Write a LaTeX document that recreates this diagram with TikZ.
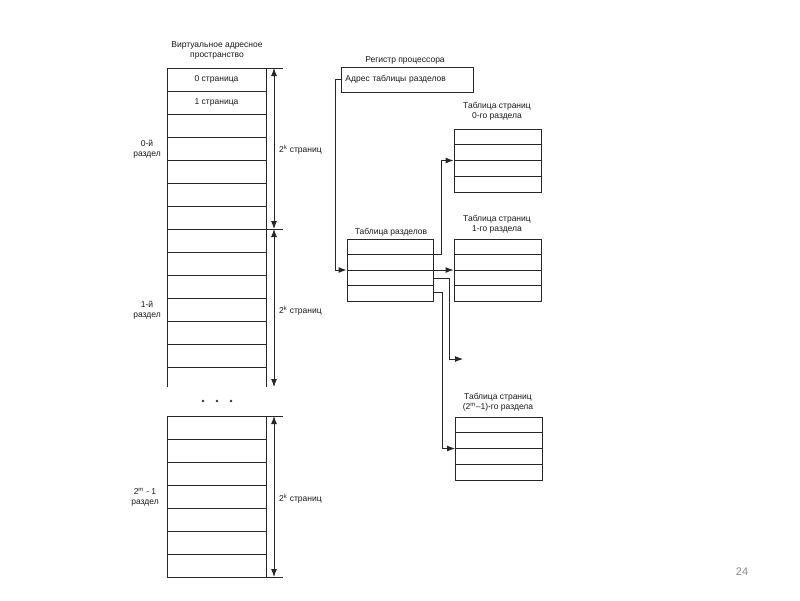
\documentclass[tikz,border=0pt]{standalone}
\usepackage{fontspec}
\setmainfont{Liberation Sans}
\usetikzlibrary{arrows.meta,calc}
\begin{document}
\begin{tikzpicture}[x=1pt,y=-1pt,
  every node/.style={font=\fontsize{8.5}{10}\selectfont, inner sep=0pt, align=center, text=black!90},
  ln/.style={line width=0.95pt, draw=black!85},
  arr/.style={ln, -{Latex[length=8pt,width=6pt]}},
  dim/.style={ln, {Latex[length=8pt,width=6pt]}-{Latex[length=8pt,width=6pt]}},
  tbl/.style={draw=black!85, line width=0.95pt, minimum width=87pt, minimum height=62pt}]
\fill[white] (0,0) rectangle (800,600);
\useasboundingbox (0,0) rectangle (800,600);

% ---------- left column ----------
\node[name=title] at (217,50) {Виртуальное адресное\\пространство};
\node[draw=black!85, line width=0.95pt, minimum width=99pt, minimum height=161pt] (s0) at (216.5,148.5) {};
\foreach \k in {1,...,6} \draw[ln] (167,68+23*\k) -- (266,68+23*\k);
\node[name=p0] at (216.5,79.5) {0 страница};
\node[name=p1] at (216.5,102.5) {1 страница};

\draw[ln] (167,229) -- (167,387);
\draw[ln] (266,229) -- (266,387);
\foreach \k in {1,...,6} \draw[ln] (167,229+23*\k) -- (266,229+23*\k);

\node[draw=black!85, line width=0.95pt, minimum width=99pt, minimum height=161pt] (s2) at (216.5,496.5) {};
\foreach \k in {1,...,6} \draw[ln] (167,416+23*\k) -- (266,416+23*\k);

\foreach \x in {203,217,231} \fill[black!80] (\x,401) circle (1.4pt);

\node[name=l0] at (147,149) {0-й\\раздел};
\node[name=l1] at (147,310) {1-й\\раздел};
\node[name=l2] at (145,497) {2\textsuperscript{m} - 1\\раздел};

% dimension lines
\coordinate (d0) at (274,68);
\coordinate (d1) at (274,229);
\coordinate (d2) at (274,387);
\coordinate (d3) at (274,416);
\coordinate (d4) at (274,577);
\foreach \y in {68,229,416,577} \draw[ln] (266,\y) -- (283,\y);
\draw[dim] (d0) -- (d1);
\draw[dim] (d1) -- (d2);
\draw[dim] (d3) -- (d4);
\node[anchor=west, name=k0] at (279,150) {2\textsuperscript{k} страниц};
\node[anchor=west, name=k1] at (279,311) {2\textsuperscript{k} страниц};
\node[anchor=west, name=k2] at (279,499) {2\textsuperscript{k} страниц};

% ---------- right part ----------
\node[name=regt] at (405,60) {Регистр процессора};
\node[draw=black!85, line width=0.95pt, anchor=west, minimum width=132pt, minimum height=25pt,
      text width=124pt, align=left, inner xsep=4pt] (reg) at (341,79.5) {Адрес таблицы разделов};

\node[tbl, minimum width=86pt] (sec) at (390,270) {};
\node[name=sect] at (391,232) {Таблица разделов};

\node[tbl, minimum height=63pt] (t0) at (497.5,160.5) {};
\node[name=t0t] at (497,111) {Таблица страниц\\0-го раздела};

\node[tbl] (t1) at (497.5,270) {};
\node[name=t1t] at (497,224) {Таблица страниц\\1-го раздела};

\node[tbl, minimum height=63pt] (t2) at (499,448.5) {};
\node[name=t2t] at (498,402) {Таблица страниц\\(2\textsuperscript{m}–1)-го раздела};

\foreach \t in {sec,t0,t1,t2}
  \foreach \f in {0.25,0.5,0.75}
    \draw[ln] ($(\t.north west)!\f!(\t.south west)$) -- ($(\t.north east)!\f!(\t.south east)$);

% connectors
\draw[arr] (reg.west) -- ++(-6,0) |- (sec.west);
\draw[arr] (sec.east |- 0,254) -- (441,254) |- (t0.west);
\draw[arr] (sec.east) -- (t1.west);
\coordinate (free) at (463,359);
\draw[arr] (sec.east |- 0,278) -- (449,278) |- (free);
\draw[arr] (sec.east |- 0,292) -- (442,292) |- (t2.west);

\node[text=black!45, font=\fontsize{11}{12}\selectfont, name=pg] at (742,572) {24};
\end{tikzpicture}
\end{document}
